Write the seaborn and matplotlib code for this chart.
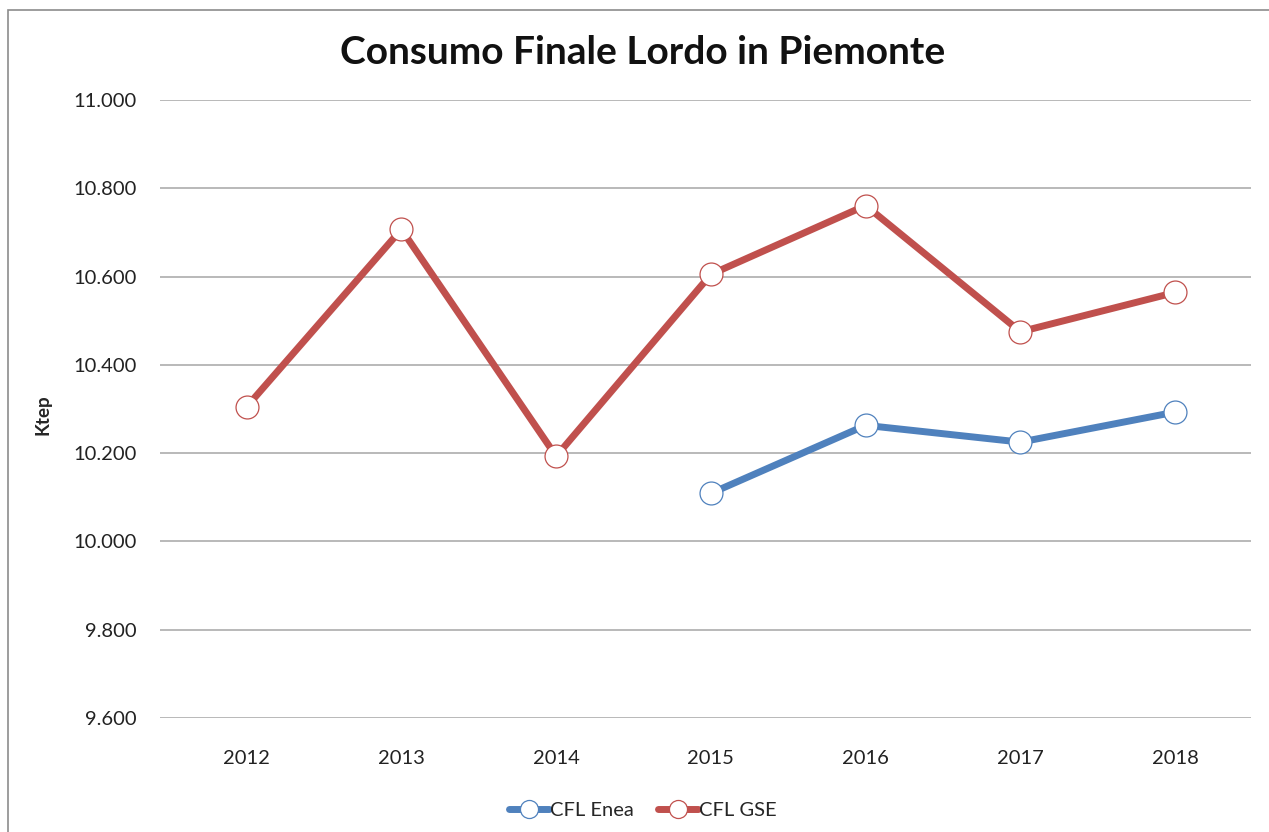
import matplotlib
matplotlib.use("Agg")
import matplotlib.pyplot as plt
from matplotlib.lines import Line2D
from matplotlib.patches import Rectangle
import numpy as np
import pandas as pd
import seaborn as sns

# Gross final energy consumption in Piedmont (ktep)
years = [2012, 2013, 2014, 2015, 2016, 2017, 2018]
cfl_enea = [np.nan, np.nan, np.nan, 10109, 10263, 10225, 10293]
cfl_gse = [10305, 10707, 10193, 10605, 10761, 10475, 10564]
series_names = ["CFL Enea", "CFL GSE"]
y_ticks = [9600, 9800, 10000, 10200, 10400, 10600, 10800, 11000]

colors = {"CFL Enea": "#4F81BD", "CFL GSE": "#C0504D"}

df = pd.DataFrame({
    "Anno": years * 2,
    "Ktep": cfl_enea + cfl_gse,
    "Serie": [series_names[0]] * len(years) + [series_names[1]] * len(years),
})

sns.set_style("white")
plt.rcParams["font.family"] = ["Lato", "DejaVu Sans"]

fig = plt.figure(figsize=(12.69, 8.32), dpi=100)
ax = fig.add_axes([160 / 1269, 1 - 718 / 832, (1251 - 160) / 1269, (718 - 100) / 832])

# thin outer frame of the chart area
fig.patches.append(Rectangle((8 / 1269, -0.05), 1.2, 1 - 10 / 832 + 0.05,
                             transform=fig.transFigure, fill=False,
                             edgecolor="#8c8c8c", linewidth=1.2, zorder=0))

for grid_y in y_ticks:
    ax.axhline(grid_y, color="#a6a6a6", linewidth=1.1, zorder=0)

sns.lineplot(data=df, x="Anno", y="Ktep", hue="Serie", palette=colors,
             linewidth=5.0, marker="o", markersize=16.5, markerfacecolor="white",
             markeredgewidth=0.9, ax=ax, legend=False, sort=False, zorder=3)

# marker edges take the series colour
for line, name in zip(ax.get_lines()[len(y_ticks):], series_names):
    line.set_markeredgecolor(colors[name])

ax.set_xlim(2011.44, 2018.49)
ax.set_ylim(9600, 11000)
ax.set_xticks(years)
ax.set_xticklabels([str(y) for y in years])
ax.set_yticks(y_ticks)
ax.set_yticklabels([f"{v // 1000}.{v % 1000:03d}" for v in y_ticks])
ax.tick_params(axis="both", length=0, labelsize=14.5, colors="#222222")
ax.tick_params(axis="y", pad=17)
ax.tick_params(axis="x", pad=23)
for s in ax.spines.values():
    s.set_visible(False)

ax.set_xlabel("")
ax.set_ylabel("Ktep", fontsize=13.5, fontweight="bold")
ax.yaxis.set_label_coords(-0.099, 0.49)

fig.text(643 / 1269, 1 - 52 / 832, "Consumo Finale Lordo in Piemonte",
         ha="center", va="center", fontsize=28, fontweight="bold", color="#111111")

handles = [Line2D([0], [0], color=colors[n], linewidth=5.0, marker="o",
                  markersize=13, markerfacecolor="white", markeredgecolor=colors[n],
                  markeredgewidth=0.9) for n in series_names]
fig.legend(handles, series_names, loc="center", bbox_to_anchor=(643 / 1269, 1 - 810 / 832),
           ncol=2, frameon=False, fontsize=14.5, handlelength=2.0, handletextpad=0.05,
           columnspacing=1.2)

fig.savefig("out.png", dpi=100)
